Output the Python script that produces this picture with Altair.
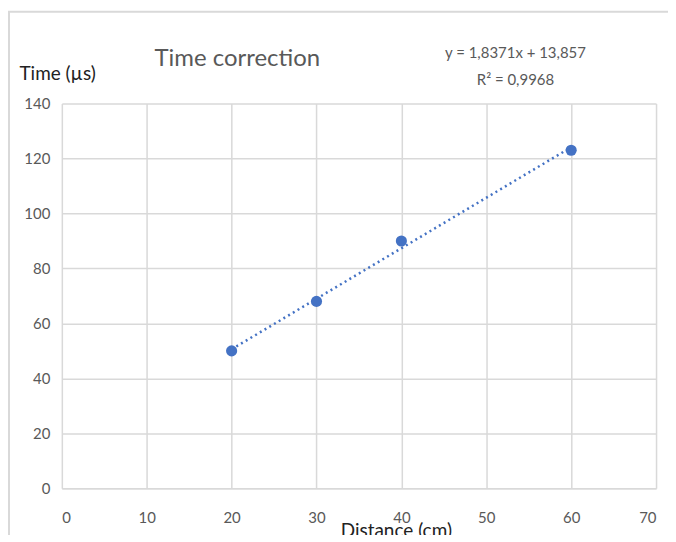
import altair as alt
import pandas as pd

distance = [20, 30, 40, 60]
time_us = [50, 68, 90, 123]
x_ticks = [0, 10, 20, 30, 40, 50, 60, 70]
y_ticks = [0, 20, 40, 60, 80, 100, 120, 140]
title_text = "Time correction"
eq_line1 = "y = 1,8371x + 13,857"
eq_line2 = "R² = 0,9968"

df = pd.DataFrame({"x": distance, "y": time_us})
FONT = "Lato"
BLUE = "#4472C4"
GRID = "#d9d9d9"

xs = alt.Scale(domain=[0, 70], nice=False)
ys = alt.Scale(domain=[0, 140], nice=False)

xaxis = alt.Axis(
    values=x_ticks, title="Distance (cm)", grid=True, gridColor=GRID, gridWidth=1.5,
    domain=True, domainColor=GRID, domainWidth=1.5, ticks=False,
    labelFont=FONT, labelFontSize=15, labelColor="#595959", labelPadding=22,
    titleFont=FONT, titleFontSize=19, titleFontWeight="normal", titleColor="#222222",
    titleX=335, titleY=42, titleBaseline="middle")
yaxis = alt.Axis(
    values=y_ticks, title="Time (µs)", grid=True, gridColor=GRID, gridWidth=1.5,
    domain=False, ticks=False,
    labelFont=FONT, labelFontSize=15, labelColor="#595959", labelPadding=12,
    titleFont=FONT, titleFontSize=19, titleFontWeight="normal", titleColor="#222222",
    titleAngle=0, titleAlign="left", titleBaseline="middle", titleX=-43, titleY=-30)

base = alt.Chart(df)

trend = base.transform_regression("x", "y", extent=[20, 60]).mark_line(
    color=BLUE, strokeWidth=2.5, strokeDash=[2, 3.5], strokeCap="butt"
).encode(x=alt.X("x:Q", scale=xs, axis=xaxis), y=alt.Y("y:Q", scale=ys, axis=yaxis))

points = base.mark_circle(size=125, opacity=1, color=BLUE).encode(
    x=alt.X("x:Q", scale=xs), y=alt.Y("y:Q", scale=ys))

title = alt.Chart(pd.DataFrame({"t": [title_text]})).mark_text(
    font=FONT, fontSize=24, color="#595959", align="left", baseline="middle"
).encode(text="t:N", x=alt.value(93), y=alt.value(-45))

eq1 = alt.Chart(pd.DataFrame({"t": [eq_line1]})).mark_text(
    font=FONT, fontSize=15, color="#595959", align="center", baseline="middle"
).encode(text="t:N", x=alt.value(455), y=alt.value(-51))
eq2 = alt.Chart(pd.DataFrame({"t": [eq_line2]})).mark_text(
    font=FONT, fontSize=15, color="#595959", align="center", baseline="middle"
).encode(text="t:N", x=alt.value(455), y=alt.value(-24))

frame_top = alt.Chart(pd.DataFrame({"a": [0]})).mark_rule(color=GRID, strokeWidth=2).encode(
    x=alt.value(-54), x2=alt.value(610), y=alt.value(-92))
frame_left = alt.Chart(pd.DataFrame({"a": [0]})).mark_rule(color=GRID, strokeWidth=2).encode(
    x=alt.value(-53), y=alt.value(-92), y2=alt.value(452))

chart = alt.layer(frame_top, frame_left, trend, points, title, eq1, eq2).properties(
    width=596, height=386,
    autosize=alt.AutoSizeParams(type="none"),
    padding={"left": 54, "top": 95, "right": 12, "bottom": 46},
).configure_view(stroke=None)

chart.save("out.html", embed_options={"renderer": "svg", "actions": False})
